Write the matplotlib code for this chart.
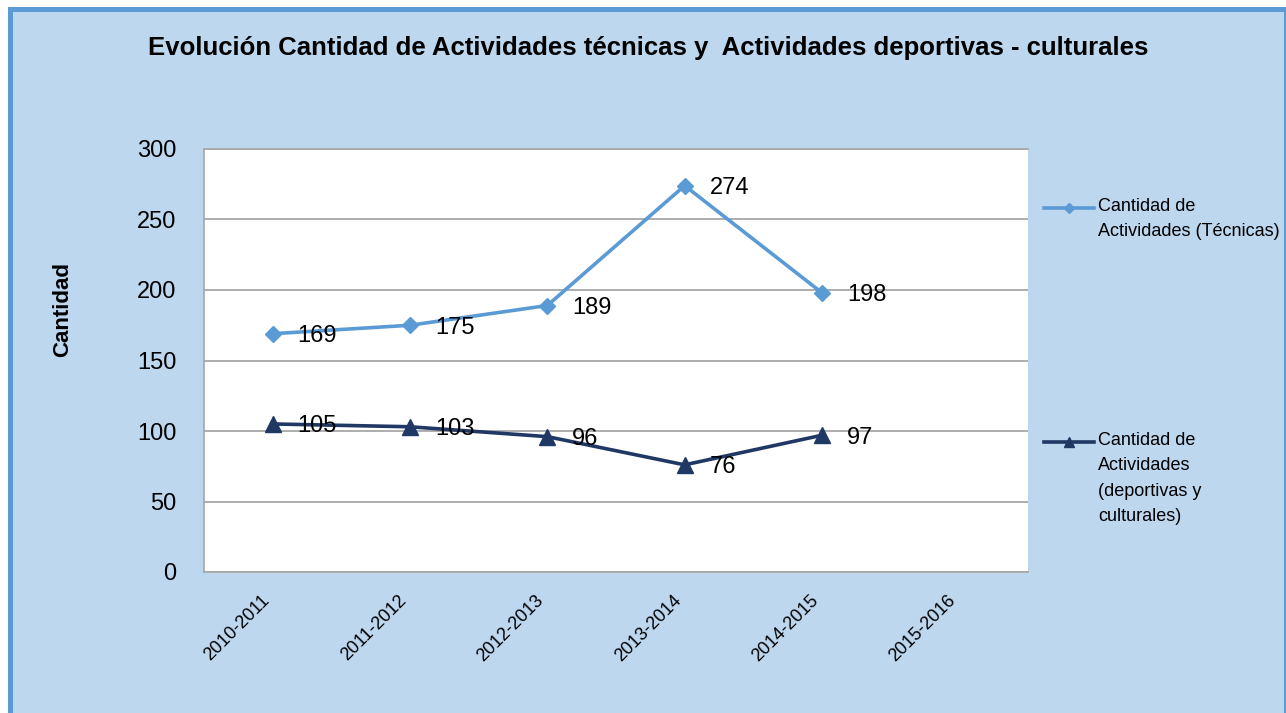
import matplotlib
import matplotlib.pyplot as plt
from matplotlib.lines import Line2D
from matplotlib.patches import Rectangle

# data
periods = ['2010-2011', '2011-2012', '2012-2013', '2013-2014', '2014-2015', '2015-2016']
tecnicas = [169, 175, 189, 274, 198]
deportivas = [105, 103, 96, 76, 97]

label_tec = 'Cantidad de\nActividades (Técnicas)'
label_dep = 'Cantidad de\nActividades\n(deportivas y\nculturales)'
title = 'Evolución Cantidad de Actividades técnicas y  Actividades deportivas - culturales'

c_tec = '#5B9BD5'
c_dep = '#1F3864'
bg = '#BDD7EE'

matplotlib.rcParams['font.family'] = ['Liberation Sans Narrow', 'Liberation Sans', 'DejaVu Sans']

W, H = 1286, 713
fig = plt.figure(figsize=(W / 100, H / 100), dpi=100, facecolor='white')

# chart frame (blue border, light blue fill)
frame = Rectangle((9.5 / W, -0.05), (1285.5 - 9.5) / W, 1 - 8.5 / H + 0.05,
                  transform=fig.transFigure, facecolor=bg, edgecolor=c_tec,
                  linewidth=3.6, zorder=-1)
fig.add_artist(frame)

ax = fig.add_axes([204 / W, 1 - 572 / H, (1028 - 204) / W, (572 - 149) / H])
ax.set_facecolor('white')

x = list(range(len(periods)))
ax.plot(x[:len(tecnicas)], tecnicas, color=c_tec, lw=2.6, marker='D', ms=8.5,
        clip_on=False, zorder=3)
ax.plot(x[:len(deportivas)], deportivas, color=c_dep, lw=2.6, marker='^', ms=12,
        clip_on=False, zorder=3)

for xi, v in zip(x, tecnicas):
    ax.annotate(str(v), (xi, v), xytext=(18, 0), textcoords='offset points',
                ha='left', va='center_baseline', fontsize=17, zorder=4)
for xi, v in zip(x, deportivas):
    ax.annotate(str(v), (xi, v), xytext=(18, 0), textcoords='offset points',
                ha='left', va='center_baseline', fontsize=17, zorder=4)

ax.set_xlim(-0.5, len(periods) - 0.5)
ax.set_ylim(0, 300)
ax.set_yticks(range(0, 301, 50))
ax.set_xticks(x)
ax.set_xticklabels(periods, rotation=45, ha='right', va='top', fontsize=13)
ax.tick_params(axis='y', length=0, pad=20, labelsize=17)
ax.tick_params(axis='x', length=0, pad=14)
ax.grid(axis='y', color='#A0A0A0', lw=1.2)
ax.set_axisbelow(True)
for s in ax.spines.values():
    s.set_color('#A6A6A6')
    s.set_linewidth(1.2)
ax.spines['right'].set_visible(False)

fig.text(648 / W, 1 - 55 / H, title, ha='center', va='baseline', fontsize=18.5,
         fontweight='bold')
fig.text(63 / W, 1 - 310 / H, 'Cantidad', rotation=90, ha='center', va='center',
         fontsize=16, fontweight='bold')

# legend drawn by hand so the handle sits on the first text line
for (y_line, y_top, col, mk, ms, lab) in [(208, 198, c_tec, 'D', 5.5, label_tec),
                                          (442, 432, c_dep, '^', 7.5, label_dep)]:
    fig.add_artist(Line2D([1044 / W, 1094 / W], [1 - y_line / H] * 2, color=col, lw=2.6,
                          transform=fig.transFigure))
    fig.add_artist(Line2D([1069 / W], [1 - y_line / H], color=col, marker=mk, ms=ms,
                          transform=fig.transFigure))
    fig.text(1098 / W, 1 - y_top / H, lab, ha='left', va='top', fontsize=13,
             linespacing=1.65)

fig.savefig('out.png', dpi=100, facecolor='white')
